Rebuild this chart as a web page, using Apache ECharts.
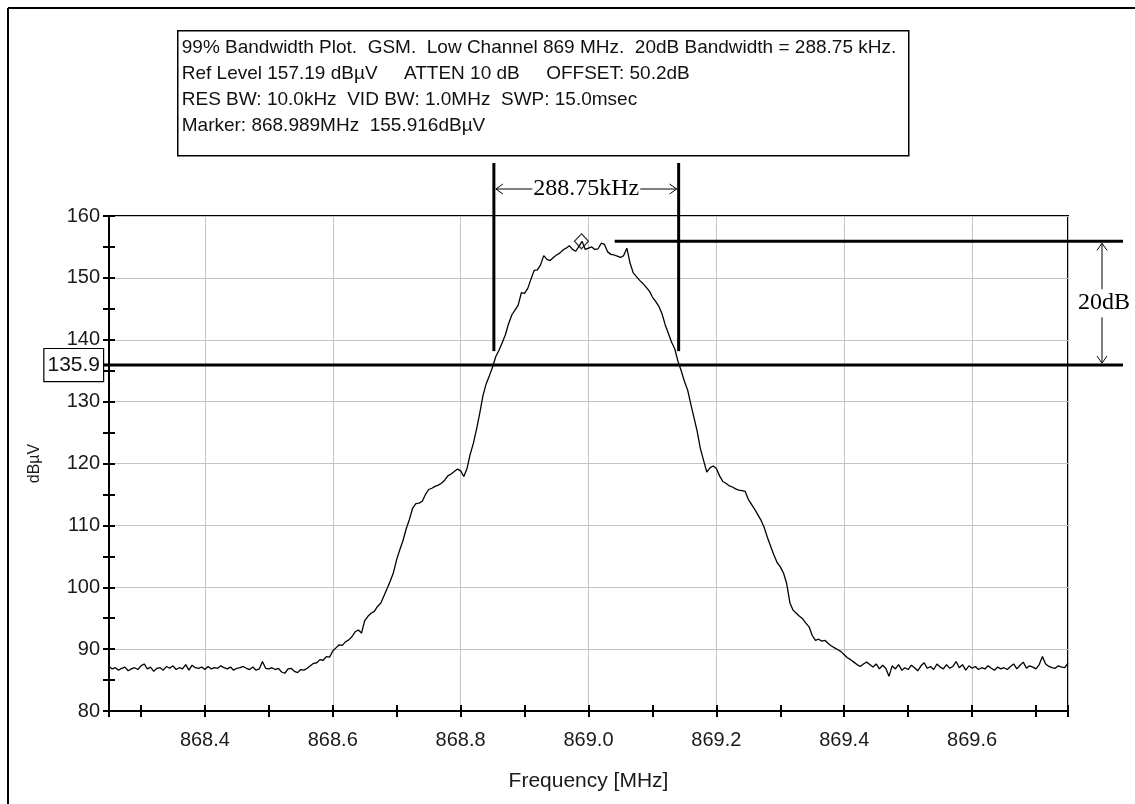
<!DOCTYPE html>
<html>
<head>
<meta charset="utf-8">
<script src="https://cdn.jsdelivr.net/npm/echarts@6/dist/echarts.min.js"></script>
<style>
html,body{margin:0;padding:0;background:#fff;}
#chart{width:1135px;height:804px;}
</style>
</head>
<body>
<div id="chart"></div>
<script>
// ---- Sweep definition (MHz) ----
const sweepStart = 868.25;
const sweepStep = 0.005;

// ---- Trace levels (dBµV), in sweep order ----
const noiseLow = [87.2,86.8,87.0,86.6,86.9,87.1,86.5,86.8,87.0,86.7,
  87.3,87.6,86.8,87.1,86.4,86.9,87.0,86.6,87.2,86.9,
  87.3,86.7,87.0,86.8,87.5,86.6,87.4,87.0,86.9,87.1,
  86.7,87.2,86.8,87.0,86.9,87.3,87.0,86.8,87.1,86.6,
  86.9,87.0,87.2,86.9,86.7,87.1,86.6,86.8,88.0,86.9,
  86.8,87.0,86.7,86.9,86.3,86.1,86.8,86.9,86.4,86.2,
  86.7,86.6,86.9];
const lowerSkirt = [87.3,87.7,87.8,88.3,88.2,88.8,88.7,89.7,90.2,90.7,
  90.6,91.2,91.5,92.0,92.8,93.1,92.6,94.6,95.3,95.8,
  96.1,96.9,97.4,98.6,99.8,101.0,102.4,104.5,106.1,107.6,
  109.5,111.0,112.8,113.5,113.6,113.9,115.0,115.8,116.0,116.3,
  116.5,116.8,117.3,118.0,118.3,118.7,119.1,118.8,117.9];
const mainLobe = [119.2,121.5,123.3,125.6,128.2,131.0,132.9,134.2,135.6,137.3,
  138.3,139.5,140.8,142.6,144.0,144.8,145.6,147.6,147.5,148.3,
  149.8,151.2,151.3,152.1,153.6,153.0,152.8,153.3,153.7,154.0,
  154.5,154.8,155.2,154.6,154.3,155.1,155.9,154.6,154.8,155.0,
  154.6,154.7,155.6,155.4,154.2,153.8,153.7,153.5,153.3,153.6,
  154.8,152.4,150.8,150.2,149.6,149.1,148.5,147.9,146.9,146.2,
  145.4,144.2,142.4,141.0,139.6,138.5,136.5,135.0,133.3,131.9,
  129.6,127.4,125.2,122.4,120.5,118.6];
const upperSkirt = [119.3,119.6,119.2,118.0,117.1,116.8,116.4,116.2,115.9,115.7,
  115.6,115.5,114.2,113.4,112.6,111.7,110.8,109.6,108.0,106.6,
  105.2,104.0,103.3,102.3,100.6,97.5,96.3,95.8,95.3,94.9,
  94.2,93.6,92.2,91.4,91.6,91.3,91.4,90.9,90.5,90.2,
  89.9,89.6,89.1,88.6,88.3,87.9,87.5,87.2,87.6,87.9,
  87.5,87.1];
const noiseHigh = [87.6,86.8,87.4,86.9,85.6,87.3,86.8,87.5,86.6,87.0,
  86.7,87.4,87.0,86.5,87.3,87.8,86.9,87.2,86.7,87.6,
  87.1,86.8,87.5,86.9,87.2,88.0,87.0,87.5,86.6,87.3,
  86.9,87.2,86.7,87.0,86.8,87.3,86.9,86.6,87.1,86.8,
  87.0,86.7,87.2,87.6,86.8,87.4,87.9,86.9,87.3,87.1,
  86.8,87.5,88.8,87.6,87.2,87.0,86.9,87.3,87.1,87.0,
  87.8];

// ---- Axis ranges ----
const xRange = [868.25, 869.75];
const yRange = [80, 160];
const yStep = 10;

// ---- Marker / bandwidth annotation values ----
const bwEdges = [868.852, 869.141];     // MHz
const thresholdLevel = 135.9;           // dBµV
const peakLevel = 155.916;              // dBµV
const markerFreq = 868.989;             // MHz
const bwLabel = '288.75kHz';
const dbLabel = '20dB';
const thresholdLabel = '135.9';

// ---- Texts ----
const infoLines = [
  '99% Bandwidth Plot.  GSM.  Low Channel 869 MHz.  20dB Bandwidth = 288.75 kHz.',
  'Ref Level 157.19 dBµV     ATTEN 10 dB     OFFSET: 50.2dB',
  'RES BW: 10.0kHz  VID BW: 1.0MHz  SWP: 15.0msec',
  'Marker: 868.989MHz  155.916dBµV'
];
const xName = 'Frequency [MHz]';
const yName = 'dBµV';

// ---- Build trace ----
const traceLevels = noiseLow.concat(lowerSkirt, mainLobe, upperSkirt, noiseHigh);
const trace = traceLevels.map((v, i) => [+(sweepStart + i * sweepStep).toFixed(3), v]);

const chart = echarts.init(document.getElementById('chart'), null, {renderer: 'canvas'});
const sansFont = '"Liberation Sans", Arial, sans-serif';
const serifFont = '"Liberation Serif", "Times New Roman", serif';
const labelColor = '#1a1a1a';

const baseX = {
  type: 'value', min: xRange[0], max: xRange[1], splitNumber: 7,
  position: 'bottom'
};
const baseY = {
  type: 'value', min: yRange[0], max: yRange[1], interval: yStep,
  position: 'left'
};

const infoGraphic = {
  type: 'group', left: 177, top: 30,
  children: [
    {type: 'rect', shape: {x: 0, y: 0, width: 731, height: 125},
     style: {fill: '#fff', stroke: '#000', lineWidth: 1.5}}
  ].concat(infoLines.map((t, i) => ({
    type: 'text', x: 4, y: 17 + i * 26,
    style: {text: t, font: '19px ' + sansFont, fill: '#111', verticalAlign: 'middle'}
  })))
};

const tickLine = {color: '#000', width: 2};

const option = {
  animation: false,
  backgroundColor: '#fff',
  grid: {left: 109, right: 67, top: 216, bottom: 93, show: true,
         borderColor: '#000', borderWidth: 2, backgroundColor: 'transparent'},
  xAxis: [
    Object.assign({}, baseX, {
      name: xName, nameLocation: 'middle', nameGap: 60,
      nameTextStyle: {fontFamily: sansFont, fontSize: 21, color: labelColor},
      axisLine: {show: true, onZero: false, lineStyle: {color: '#000', width: 2}},
      axisTick: {show: true, inside: false, length: 6, lineStyle: tickLine},
      minorTick: {show: true, splitNumber: 2, length: 6, lineStyle: tickLine},
      axisLabel: {show: true, margin: 19, fontFamily: sansFont, fontSize: 20, color: labelColor,
                  showMinLabel: false, showMaxLabel: false,
                  formatter: v => v.toFixed(1)},
      splitLine: {show: true, lineStyle: {color: '#c4c4c4', width: 1}}
    }),
    Object.assign({}, baseX, {
      axisLine: {show: false, onZero: false},
      axisTick: {show: true, inside: true, length: 6, lineStyle: tickLine},
      minorTick: {show: true, splitNumber: 2, length: 6, lineStyle: tickLine},
      axisLabel: {show: false},
      splitLine: {show: false}
    })
  ],
  yAxis: [
    Object.assign({}, baseY, {
      name: yName, nameLocation: 'middle', nameGap: 66,
      nameTextStyle: {fontFamily: sansFont, fontSize: 16, color: labelColor},
      axisLine: {show: true, onZero: false, lineStyle: {color: '#000', width: 2}},
      axisTick: {show: true, inside: false, length: 6, lineStyle: tickLine},
      minorTick: {show: true, splitNumber: 2, length: 6, lineStyle: tickLine},
      axisLabel: {show: true, margin: 9, fontFamily: sansFont, fontSize: 20, color: labelColor},
      splitLine: {show: true, lineStyle: {color: '#c4c4c4', width: 1}}
    }),
    Object.assign({}, baseY, {
      axisLine: {show: false, onZero: false},
      axisTick: {show: true, inside: true, length: 6, lineStyle: tickLine},
      minorTick: {show: true, splitNumber: 2, length: 6, lineStyle: tickLine},
      axisLabel: {show: false},
      splitLine: {show: false}
    })
  ],
  graphic: [
    {type: 'line', shape: {x1: 8, y1: 8, x2: 1135, y2: 8}, style: {stroke: '#000', lineWidth: 2}, z: 100},
    {type: 'line', shape: {x1: 8, y1: 8, x2: 8, y2: 804}, style: {stroke: '#000', lineWidth: 2}, z: 100},
    infoGraphic
  ],
  series: [
    {
      type: 'line', data: trace, showSymbol: false, symbol: 'none',
      lineStyle: {color: '#000', width: 1.3}, z: 3, silent: true
    },
    {
      type: 'scatter', data: [[markerFreq, peakLevel]], symbol: 'diamond', symbolSize: [14, 15],
      itemStyle: {color: 'rgba(255,255,255,0)', borderColor: '#000', borderWidth: 1.2}, z: 5, silent: true
    },
    {
      type: 'custom', z: 10, silent: true, clip: false,
      data: [[markerFreq, peakLevel]],
      renderItem: function (params, api) {
        const cs = params.coordSys;
        const xL = api.coord([bwEdges[0], thresholdLevel])[0];
        const xR = api.coord([bwEdges[1], thresholdLevel])[0];
        const yT = api.coord([markerFreq, thresholdLevel])[1];
        const yP = api.coord([markerFreq, peakLevel])[1];
        const right = cs.x + cs.width;
        const vTop = cs.y - 53;
        const vBot = yT - 14;
        const arrowY = cs.y - 27;
        const arrowX = right + 34;
        const lineEnd = right + 55;
        const thick = {stroke: '#000', lineWidth: 3};
        const thin = {stroke: '#000', lineWidth: 1, fill: null};
        const ah = 7, aw = 5;
        return {
          type: 'group',
          children: [
            {type: 'line', shape: {x1: cs.x - 6, y1: yT, x2: lineEnd, y2: yT}, style: thick},
            {type: 'line', shape: {x1: xR - 64, y1: yP, x2: lineEnd, y2: yP}, style: thick},
            {type: 'line', shape: {x1: xL, y1: vTop, x2: xL, y2: vBot}, style: thick},
            {type: 'line', shape: {x1: xR, y1: vTop, x2: xR, y2: vBot}, style: thick},
            // horizontal bandwidth arrow
            {type: 'line', shape: {x1: xL + 2, y1: arrowY, x2: xR - 2, y2: arrowY}, style: thin},
            {type: 'polyline', shape: {points: [[xL + 2 + ah, arrowY - aw], [xL + 2, arrowY], [xL + 2 + ah, arrowY + aw]]}, style: thin},
            {type: 'polyline', shape: {points: [[xR - 2 - ah, arrowY - aw], [xR - 2, arrowY], [xR - 2 - ah, arrowY + aw]]}, style: thin},
            {type: 'text', x: (xL + xR) / 2, y: arrowY,
             style: {text: bwLabel, font: '24px ' + serifFont, fill: '#000', align: 'center', verticalAlign: 'middle',
                     backgroundColor: '#fff', padding: [0, 1]}},
            // vertical 20 dB arrow
            {type: 'line', shape: {x1: arrowX, y1: yP + 2, x2: arrowX, y2: yT - 2}, style: thin},
            {type: 'polyline', shape: {points: [[arrowX - aw, yP + 2 + ah], [arrowX, yP + 2], [arrowX + aw, yP + 2 + ah]]}, style: thin},
            {type: 'polyline', shape: {points: [[arrowX - aw, yT - 2 - ah], [arrowX, yT - 2], [arrowX + aw, yT - 2 - ah]]}, style: thin},
            {type: 'text', x: arrowX + 2, y: (yP + yT) / 2,
             style: {text: dbLabel, font: '24px ' + serifFont, fill: '#000', align: 'center', verticalAlign: 'middle',
                     backgroundColor: '#fff', padding: [2, 0]}},
            // threshold value box
            {type: 'text', x: cs.x - 6, y: yT,
             style: {text: thresholdLabel, font: '21px ' + sansFont, fill: '#111', align: 'right', verticalAlign: 'middle',
                     backgroundColor: '#fff', borderColor: '#000', borderWidth: 1.2, padding: [6, 3, 5, 3]}}
          ]
        };
      }
    }
  ]
};
chart.setOption(option);
</script>
</body>
</html>
